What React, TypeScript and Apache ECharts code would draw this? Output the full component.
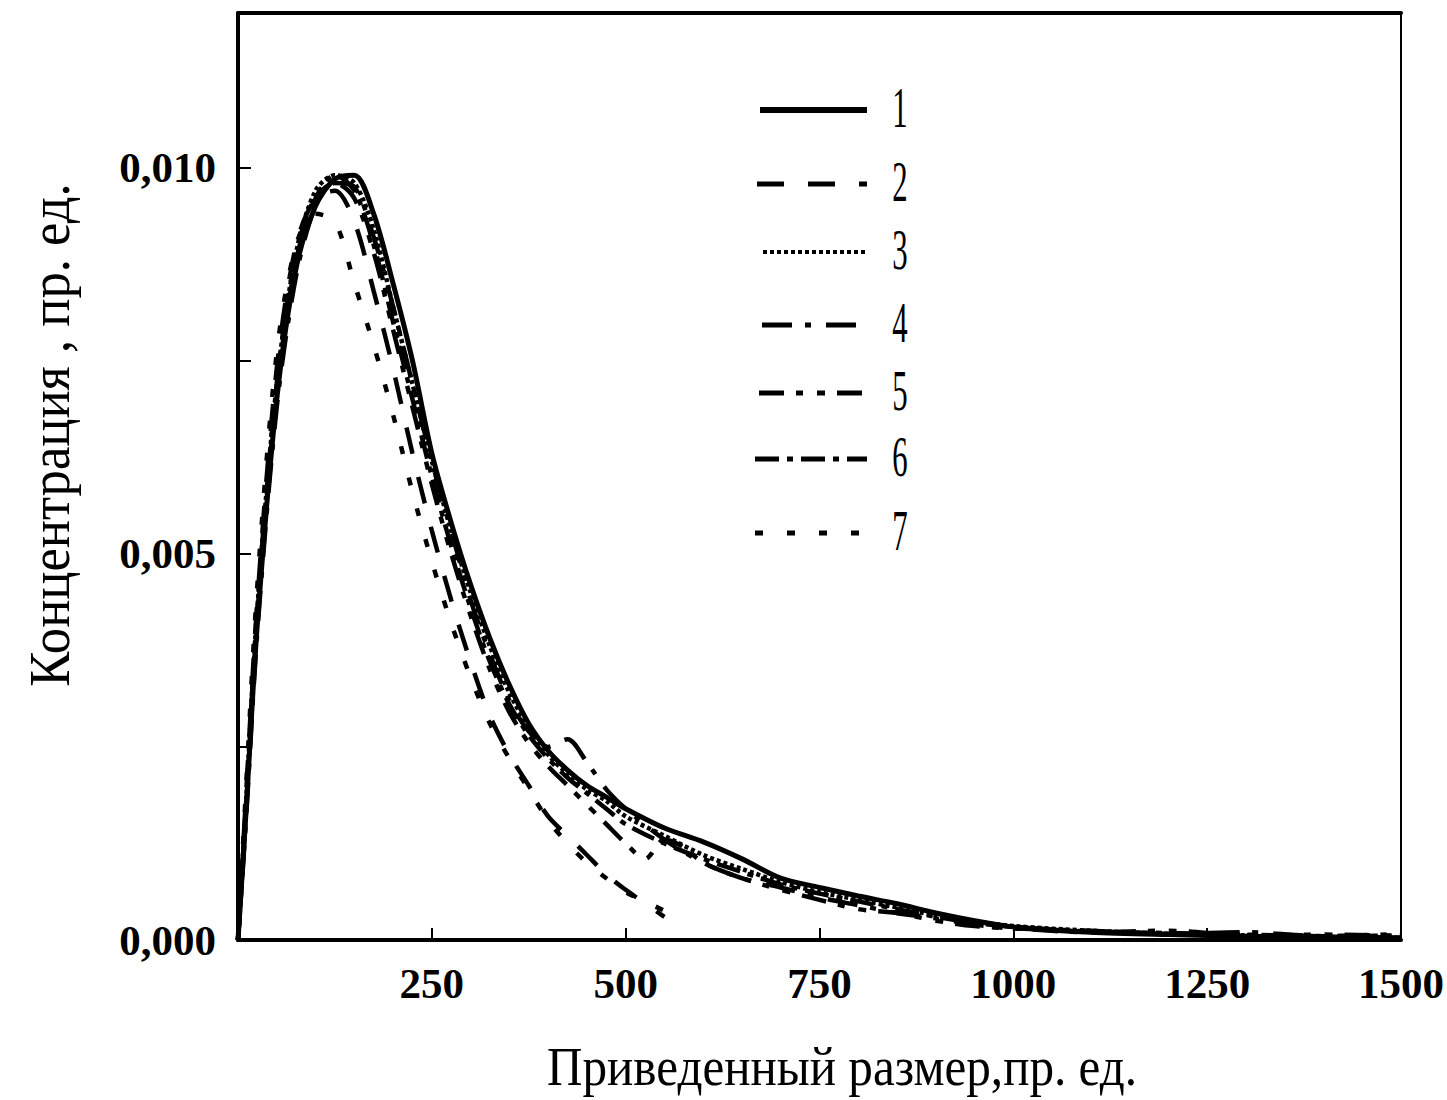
import React, { useEffect, useRef } from "react";
import * as echarts from "echarts";

// ---- data (y in units of 1e-3) ----
const xTickLabels = ["250", "500", "750", "1000", "1250", "1500"];
const yTickLabels = ["0,000", "0,005", "0,010"];
const legendLabels = ["1", "2", "3", "4", "5", "6", "7"];

const xFull = [0, 10, 25, 50, 75, 100, 125, 150, 175, 200, 225, 250, 275, 300, 325, 350, 375, 400, 425, 450, 475, 500, 550, 600, 650, 700, 750, 800, 850, 900, 950, 1000, 1100, 1200, 1300, 1400, 1500];
const xShort = [0, 10, 25, 50, 75, 100, 125, 150, 175, 200, 225, 250, 275, 300, 325, 350, 375, 400, 425, 450, 475, 500, 550];
const x5 = [0, 10, 25, 50, 75, 100, 125, 150, 175, 200, 225, 250, 275, 300, 325, 350, 375, 400, 425, 450, 475, 500, 525, 550, 575, 600, 650, 700, 750, 800, 850, 900, 950, 1000, 1100, 1200, 1300, 1400, 1500];

const curve1 = [0, 1.6, 4.1, 7.0, 8.7, 9.5, 9.85, 9.9, 9.4, 8.5, 7.5, 6.3, 5.4, 4.6, 3.9, 3.3, 2.8, 2.45, 2.2, 2.0, 1.85, 1.7, 1.45, 1.27, 1.05, 0.8, 0.68, 0.57, 0.47, 0.35, 0.25, 0.17, 0.1, 0.07, 0.05, 0.04, 0.03];
const curve2 = [0, 1.8, 4.4, 7.4, 9.0, 9.6, 9.7, 9.3, 8.4, 7.4, 6.3, 5.3, 4.4, 3.6, 2.9, 2.4, 2.0, 1.6, 1.35, 1.1, 0.85, 0.65, 0.3];
const curve3 = [0, 1.7, 4.3, 7.2, 8.9, 9.7, 9.9, 9.8, 9.2, 8.2, 7.2, 6.2, 5.3, 4.5, 3.8, 3.2, 2.75, 2.4, 2.15, 1.95, 1.8, 1.6, 1.35, 1.1, 0.92, 0.75, 0.62, 0.52, 0.42, 0.32, 0.24, 0.18, 0.12, 0.08, 0.06, 0.04, 0.03];
const curve4 = [0, 1.5, 4.0, 6.9, 8.6, 9.5, 9.8, 9.75, 9.1, 8.2, 7.2, 6.2, 5.3, 4.4, 3.7, 3.1, 2.7, 2.5, 2.6, 2.3, 1.95, 1.7, 1.3, 1.0, 0.8, 0.68, 0.55, 0.45, 0.35, 0.28, 0.2, 0.15, 0.12, 0.08, 0.1, 0.05, 0.08];
const curve5 = [0, 1.7, 4.3, 7.2, 8.9, 9.6, 9.8, 9.6, 8.9, 7.9, 6.9, 5.9, 5.0, 4.2, 3.5, 2.95, 2.55, 2.25, 2.0, 1.75, 1.5, 1.25, 1.05, 1.3, 1.2, 1.0, 0.8, 0.65, 0.52, 0.4, 0.35, 0.25, 0.18, 0.15, 0.1, 0.12, 0.06, 0.07, 0.05];
const curve6 = [0, 1.6, 4.2, 7.1, 8.8, 9.6, 9.9, 9.7, 9.0, 8.0, 7.0, 6.0, 5.1, 4.3, 3.6, 3.05, 2.65, 2.35, 2.1, 1.9, 1.7, 1.5, 1.25, 1.05, 0.88, 0.72, 0.6, 0.5, 0.4, 0.3, 0.22, 0.17, 0.11, 0.09, 0.07, 0.05, 0.06];
const curve7 = [0, 1.9, 4.6, 7.6, 9.0, 9.4, 9.3, 8.5, 7.7, 6.8, 5.8, 4.9, 4.1, 3.4, 2.8, 2.35, 1.95, 1.55, 1.25, 1.0, 0.8, 0.62, 0.38];

const seriesX = [xFull, xShort, xFull, xFull, x5, xFull, xShort];
const seriesY = [curve1, curve2, curve3, curve4, curve5, curve6, curve7];
const dashes: (number[] | "solid")[] = [
  "solid",
  [27, 24],
  [4, 3],
  [30, 13, 6, 15],
  [25, 12, 7, 14, 8, 12],
  [24, 8, 6, 8],
  [8, 24],
];

const FONT = "'Liberation Serif', 'Times New Roman', serif";

export default function App() {
  const ref = useRef<HTMLDivElement>(null);
  useEffect(() => {
    if (!ref.current) return;
    const chart = echarts.init(ref.current, null, { renderer: "svg" });

    const series = seriesY.map((ys, i) => ({
      type: "line",
      name: legendLabels[i],
      data: ys.map((v, j) => [seriesX[i][j], v / 1000]),
      showSymbol: false,
      smooth: 0.3,
      lineStyle: {
        color: "#000",
        width: i === 0 ? 5 : 4.5,
        type: dashes[i],
        cap: "butt",
      },
      z: 3,
    }));

    const legendY = [110, 184, 252, 325, 393, 459, 533];
    const legendX1 = [760, 757, 763, 762, 759, 755, 755];
    const legendGraphics: any[] = [];
    legendLabels.forEach((lab, i) => {
      legendGraphics.push({
        type: "line",
        shape: { x1: legendX1[i], y1: legendY[i], x2: 867, y2: legendY[i] },
        style: {
          stroke: "#000",
          lineWidth: i === 0 ? 6 : i === 2 ? 4 : 5,
          lineDash: dashes[i] === "solid" ? null : dashes[i],
          lineCap: "butt",
        },
      });
      legendGraphics.push({
        type: "text",
        x: 900,
        y: legendY[i] - 2,
        scaleX: 0.55,
        style: {
          text: lab,
          fontFamily: FONT,
          fontSize: 56,
          fill: "#000",
          align: "center",
          verticalAlign: "middle",
          textAlign: "center",
          textVerticalAlign: "middle",
        },
      });
    });

    chart.setOption({
      animation: false,
      backgroundColor: "#fff",
      grid: { left: 238, right: 45, top: 13, bottom: 160, containLabel: false },
      xAxis: [
        {
          type: "value",
          min: 0,
          max: 1500,
          interval: 250,
          splitLine: { show: false },
          axisLine: { show: true, onZero: false, lineStyle: { color: "#000", width: 4 } },
          axisTick: { show: true, inside: true, length: 12, lineStyle: { color: "#000", width: 2 } },
          axisLabel: {
            margin: 22,
            fontFamily: FONT,
            fontWeight: "bold",
            fontSize: 43,
            color: "#000",
            formatter: (v: number) => {
              const idx = Math.round(v / 250) - 1;
              return idx >= 0 && idx < xTickLabels.length ? xTickLabels[idx] : "";
            },
          },
        },
        {
          type: "value",
          position: "top",
          min: 0,
          max: 1500,
          interval: 250,
          splitLine: { show: false },
          axisLine: { show: true, onZero: false, lineStyle: { color: "#000", width: 4 } },
          axisTick: { show: false },
          axisLabel: { show: false },
        },
      ],
      yAxis: [
        {
          type: "value",
          min: 0,
          max: 0.012,
          interval: 0.0025,
          splitLine: { show: false },
          axisLine: { show: true, onZero: false, lineStyle: { color: "#000", width: 4 } },
          axisTick: { show: true, inside: true, length: 13, lineStyle: { color: "#000", width: 2 } },
          axisLabel: {
            margin: 22,
            fontFamily: FONT,
            fontWeight: "bold",
            fontSize: 43,
            color: "#000",
            formatter: (v: number) => {
              const k = v / 0.005;
              if (Math.abs(k - Math.round(k)) > 1e-6) return "";
              const idx = Math.round(k);
              return idx >= 0 && idx < yTickLabels.length ? yTickLabels[idx] : "";
            },
          },
        },
        {
          type: "value",
          position: "right",
          min: 0,
          max: 0.012,
          splitLine: { show: false },
          axisLine: { show: true, onZero: false, lineStyle: { color: "#000", width: 2 } },
          axisTick: { show: false },
          axisLabel: { show: false },
        },
      ],
      series,
      graphic: [
        {
          type: "text",
          x: 842,
          y: 1067,
          scaleX: 0.91,
          style: {
            text: "Приведенный размер,пр. ед.",
            fontFamily: FONT,
            fontSize: 54,
            fill: "#000",
            align: "center",
            verticalAlign: "middle",
            textAlign: "center",
            textVerticalAlign: "middle",
          },
        },
        {
          type: "text",
          x: 50,
          y: 435,
          rotation: Math.PI / 2,
          scaleX: 0.94,
          style: {
            text: "Концентрация , пр. ед.",
            fontFamily: FONT,
            fontSize: 56,
            fill: "#000",
            align: "center",
            verticalAlign: "middle",
            textAlign: "center",
            textVerticalAlign: "middle",
          },
        },
        ...legendGraphics,
      ],
    });
    return () => chart.dispose();
  }, []);
  return (
    <div
      ref={ref}
      style={{ position: "fixed", left: 0, top: 0, width: 1447, height: 1100, background: "#fff" }}
    />
  );
}
